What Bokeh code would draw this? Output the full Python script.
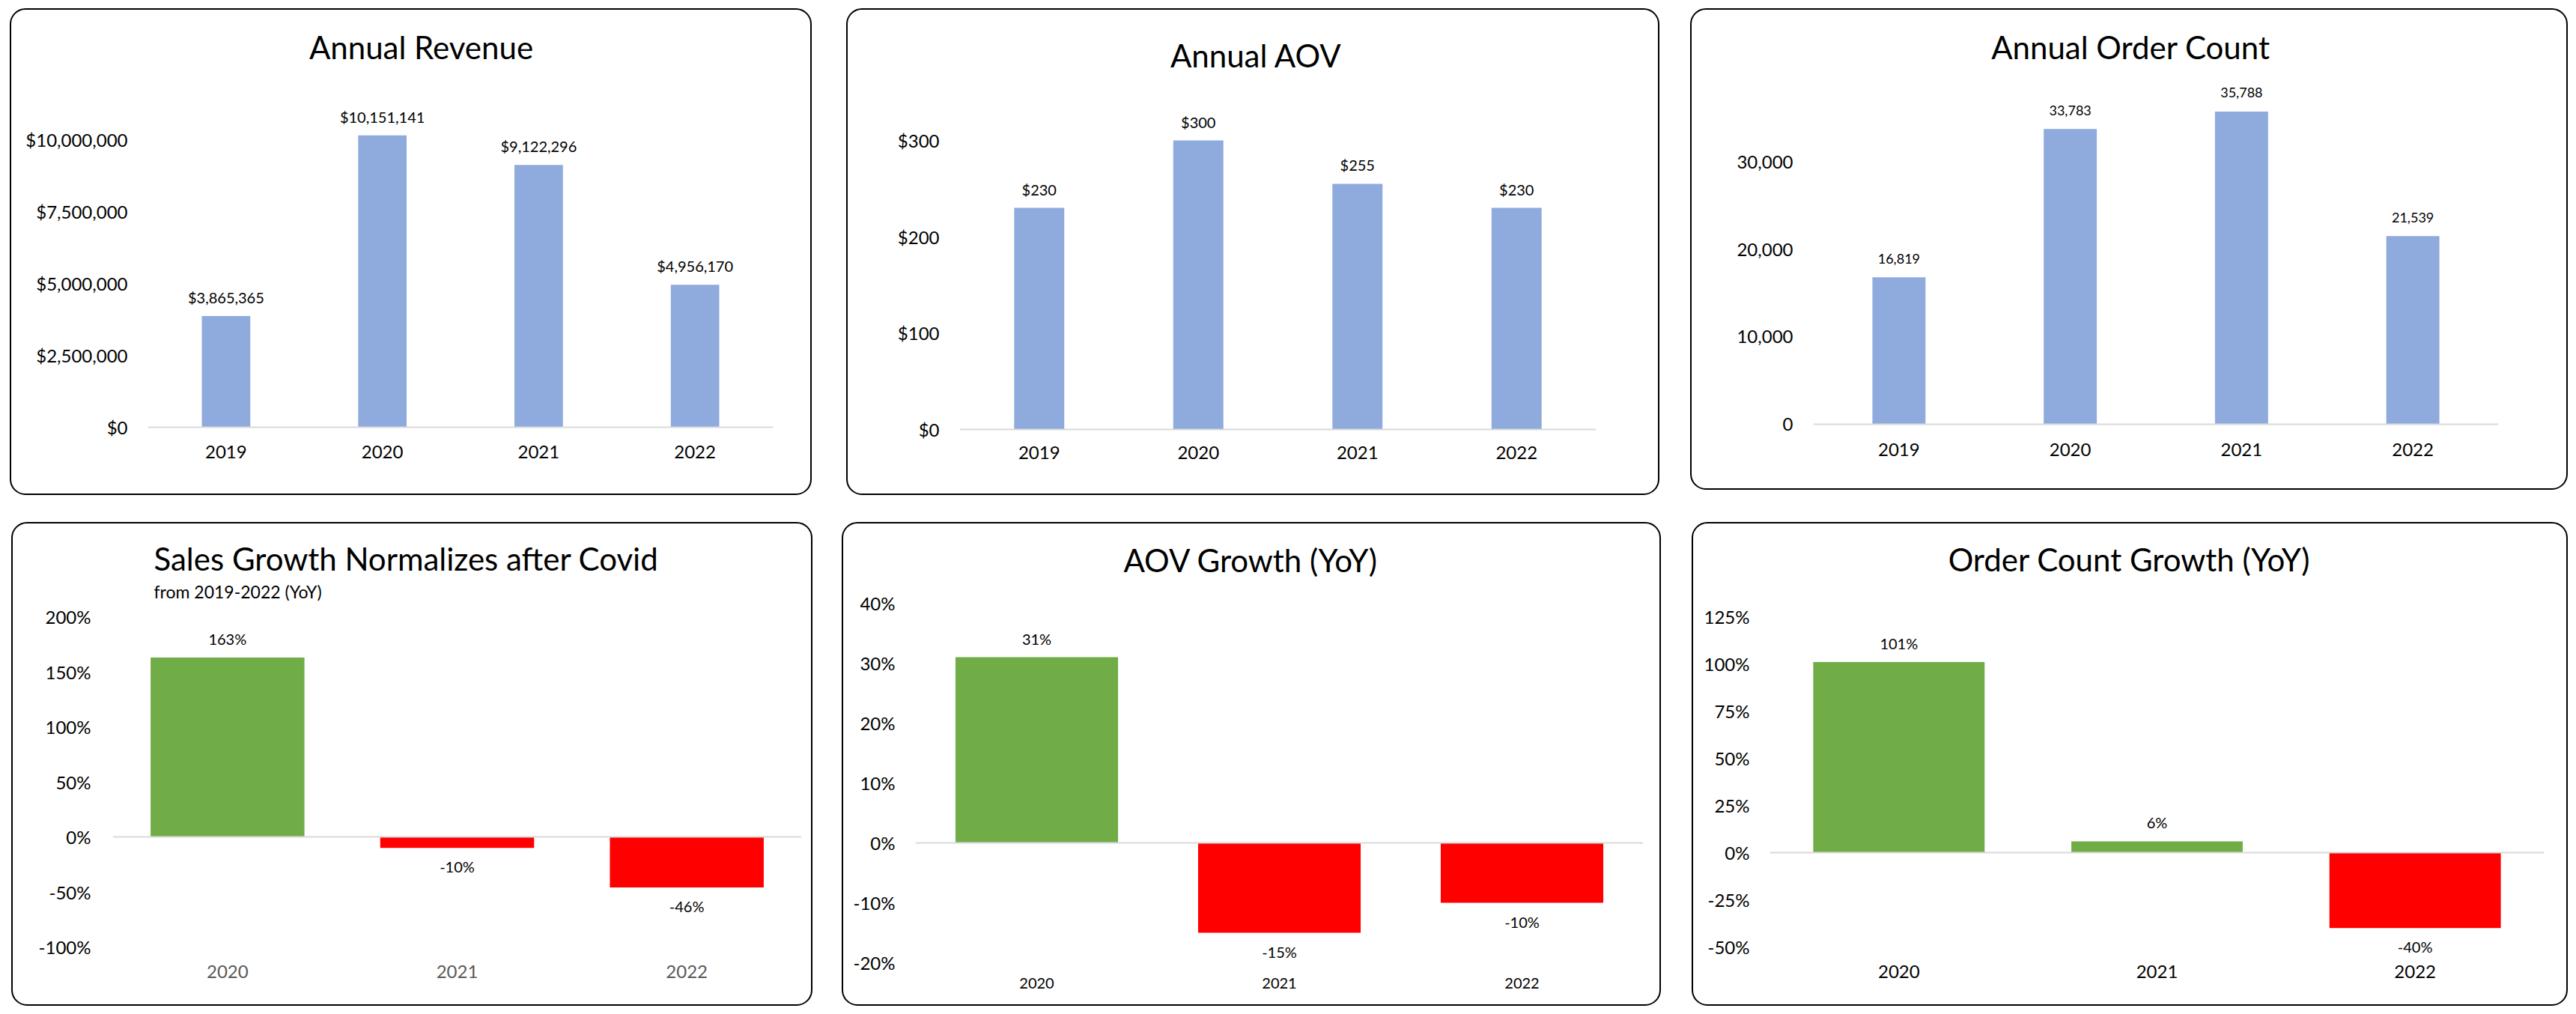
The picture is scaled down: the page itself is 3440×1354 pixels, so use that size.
from bokeh.plotting import figure
from bokeh.models import (ColumnDataSource, FactorRange, Range1d, FixedTicker,
                          NumeralTickFormatter, Span, Spacer)
from bokeh.layouts import row, column
from bokeh.core.properties import value
from bokeh.embed import file_html
from bokeh.resources import INLINE

# ---------------- data ----------------
years = ["2019", "2020", "2021", "2022"]
revenue = [3865365, 10151141, 9122296, 4956170]
aov = [230, 300, 255, 230]
order_count = [16819, 33783, 35788, 21539]

growth_years = ["2020", "2021", "2022"]
sales_growth = [1.63, -0.10, -0.46]
aov_growth = [0.31, -0.15, -0.10]
order_growth = [1.01, 0.06, -0.40]

revenue_ticks = [0, 2500000, 5000000, 7500000, 10000000]
aov_ticks = [0, 100, 200, 300]
order_ticks = [0, 10000, 20000, 30000]
sales_growth_ticks = [-1.0, -0.5, 0.0, 0.5, 1.0, 1.5, 2.0]
aov_growth_ticks = [-0.2, -0.1, 0.0, 0.1, 0.2, 0.3, 0.4]
order_growth_ticks = [-0.5, -0.25, 0.0, 0.25, 0.5, 0.75, 1.0, 1.25]

# ---------------- styles ----------------
FONT = "Lato"
BLACK = "#000000"
BLUE = "#8FAADC"
GREEN = "#70AD47"
RED = "#FF0000"
AXIS_GREY = "#D9D9D9"
LABEL_GREY = "#595959"
BORDER = 2


def build(cats, vals, texts, fills, ticks, tick_fmt, g, bar_width, titles,
          xlab_size="24px", xlab_color=BLACK, data_size="20px"):
    cx0 = g["ox"] + BORDER
    cy0 = g["oy"] + BORDER
    W, H = g["W"], g["H"]
    y_start = -(g["B"] - g["zero"]) / g["scale"]
    y_end = (g["zero"] - g["T"]) / g["scale"]
    p = figure(x_range=FactorRange(factors=cats), y_range=Range1d(y_start, y_end),
               width=W, height=H, output_backend="svg", toolbar_location=None, title=None,
               min_border_left=g["L"] - cx0, min_border_right=cx0 + W - g["R"],
               min_border_top=g["T"] - cy0, min_border_bottom=cy0 + H - g["B"])
    p.xgrid.visible = False
    p.ygrid.visible = False
    p.outline_line_color = None
    p.background_fill_color = None
    p.border_fill_color = None

    src = ColumnDataSource(dict(cat=cats, val=vals, txt=texts, fill=fills,
                                off=[-25 if v >= 0 else 25 for v in vals]))
    p.vbar(x="cat", top="val", bottom=0, width=bar_width, source=src,
           fill_color="fill", line_color=None)
    p.add_layout(Span(location=0, dimension="width", line_color=AXIS_GREY, line_width=2))
    p.text(x="cat", y="val", text="txt", y_offset="off", source=src,
           text_align="center", text_baseline="middle", text_font=value(FONT),
           text_font_size=data_size, text_color=BLACK)

    xa = p.xaxis[0]
    xa.axis_line_color = None
    xa.major_tick_line_color = None
    xa.minor_tick_line_color = None
    xa.major_tick_out = 0
    xa.minor_tick_out = 0
    xa.major_label_text_font = FONT
    xa.major_label_text_font_size = xlab_size
    xa.major_label_text_color = xlab_color
    xa.major_label_standoff = g["xs"]

    ya = p.yaxis[0]
    ya.ticker = FixedTicker(ticks=ticks, minor_ticks=[])
    ya.formatter = NumeralTickFormatter(format=tick_fmt)
    ya.axis_line_color = None
    ya.major_tick_line_color = None
    ya.minor_tick_line_color = None
    ya.major_tick_out = 0
    ya.minor_tick_out = 0
    ya.major_label_text_font = FONT
    ya.major_label_text_font_size = "24px"
    ya.major_label_text_color = BLACK
    ya.major_label_standoff = g["ys"]

    # titles: text glyphs anchored on the first category, shifted in screen px
    n = len(cats)
    first_center = g["L"] + 0.5 * (g["R"] - g["L"]) / n
    for text, px, py, size, align in titles:
        yv = (g["zero"] - py) / g["scale"]
        p.text(x=[cats[0]], y=[yv], text=[text], x_offset=px - first_center,
               text_align=align, text_baseline="middle", text_font=value(FONT),
               text_font_size=size, text_color=BLACK)

    p.styles = {"border": f"{BORDER}px solid #000000", "border-radius": "21px"}
    return p


# geometry in page pixels: outer box, frame edges, zero line, pixels per unit
g1 = dict(ox=13, oy=11, W=1071, H=650, L=197, R=1032, T=17, B=585, zero=570,
          scale=384 / 1e7, xs=9, ys=27)
g2 = dict(ox=1130, oy=11, W=1086, H=650, L=1281, R=2131, T=17, B=585, zero=573,
          scale=386 / 300, xs=10, ys=27)
g3 = dict(ox=2257, oy=11, W=1172, H=643, L=2421, R=3336, T=17, B=578, zero=566,
          scale=350 / 30000, xs=13, ys=27)
g4 = dict(ox=15, oy=697, W=1070, H=646, L=150, R=1070, T=703, B=1285, zero=1117,
          scale=147, xs=3, ys=29)
g5 = dict(ox=1124, oy=697, W=1094, H=646, L=1222, R=2194, T=703, B=1285, zero=1125,
          scale=800, xs=20, ys=27)
g6 = dict(ox=2259, oy=697, W=1170, H=646, L=2363, R=3397, T=703, B=1285, zero=1138,
          scale=252, xs=3, ys=27)


def gcolors(vals):
    return [GREEN if v >= 0 else RED for v in vals]


def pct(vals):
    return [f"{round(v * 100):.0f}%" for v in vals]


p1 = build(years, revenue, [f"${v:,.0f}" for v in revenue], [BLUE] * len(years),
           revenue_ticks, "$0,0", g1, 0.31,
           [("Annual Revenue", 562, 62, "42px", "center")])
p2 = build(years, aov, [f"${v:,.0f}" for v in aov], [BLUE] * len(years),
           aov_ticks, "$0,0", g2, 0.315,
           [("Annual AOV", 1677, 73, "42px", "center")])
p3 = build(years, order_count, [f"{v:,}" for v in order_count], [BLUE] * len(years),
           order_ticks, "0,0", g3, 0.31,
           [("Annual Order Count", 2845, 62, "42px", "center")], data_size="18px")
p4 = build(growth_years, sales_growth, pct(sales_growth), gcolors(sales_growth),
           sales_growth_ticks, "0%", g4, 0.67,
           [("Sales Growth Normalizes after Covid", 205, 745, "42px", "left"),
            ("from 2019-2022 (YoY)", 205, 789, "23px", "left")],
           xlab_color=LABEL_GREY)
p5 = build(growth_years, aov_growth, pct(aov_growth), gcolors(aov_growth),
           aov_growth_ticks, "0%", g5, 0.67,
           [("AOV Growth (YoY)", 1670, 747, "42px", "center")], xlab_size="20px")
p6 = build(growth_years, order_growth, pct(order_growth), gcolors(order_growth),
           order_growth_ticks, "0%", g6, 0.664,
           [("Order Count Growth (YoY)", 2843, 746, "42px", "center")])

row1 = row(Spacer(width=g1["ox"], height=1), p1,
           Spacer(width=g2["ox"] - g1["ox"] - g1["W"], height=1), p2,
           Spacer(width=g3["ox"] - g2["ox"] - g2["W"], height=1), p3)
row2 = row(Spacer(width=g4["ox"], height=1), p4,
           Spacer(width=g5["ox"] - g4["ox"] - g4["W"], height=1), p5,
           Spacer(width=g6["ox"] - g5["ox"] - g5["W"], height=1), p6)
layout = column(Spacer(width=1, height=g1["oy"]), row1,
                Spacer(width=1, height=g4["oy"] - g1["oy"] - g1["H"]), row2)

open("out.html", "w").write(file_html(layout, INLINE, "Sales dashboard"))
